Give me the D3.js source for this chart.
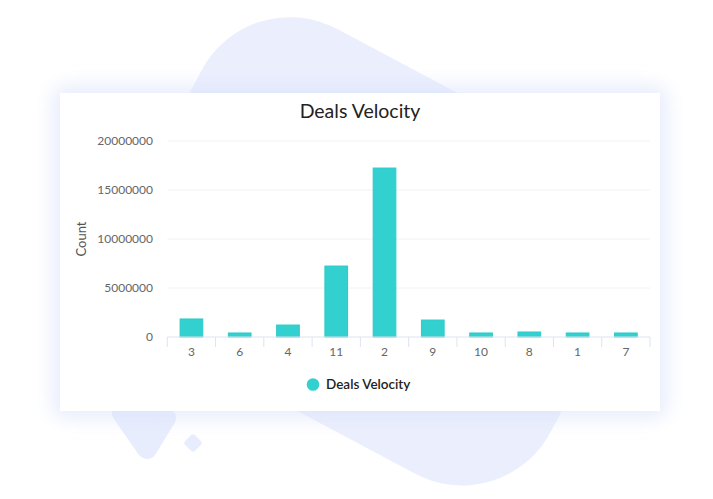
<!DOCTYPE html>
<html><head><meta charset="utf-8">
<script src="https://cdn.jsdelivr.net/npm/d3@7"></script>
<style>html,body{margin:0;padding:0;background:#fff;overflow:hidden}svg{display:block}</style>
</head><body>
<script>
const categories = ["3","6","4","11","2","9","10","8","1","7"];
const values = [1840000, 410000, 1220000, 7240000, 17240000, 1730000, 410000, 510000, 410000, 410000];
const yTicks = [0, 5000000, 10000000, 15000000, 20000000];
const seriesName = "Deals Velocity";
const chartTitle = "Deals Velocity";
const yAxisTitle = "Count";

const W = 713, H = 499;
const FONT = "Lato, 'Open Sans', sans-serif";
const BAR = "#32d1d0";
const svg = d3.select("body").append("svg").attr("width", W).attr("height", H);
const defs = svg.append("defs");
const f = defs.append("filter").attr("id", "halo")
  .attr("x", "-20%").attr("y", "-20%").attr("width", "140%").attr("height", "140%");
f.append("feGaussianBlur").attr("stdDeviation", 9);

// decorative background shapes
const bg = svg.append("g");
bg.append("rect").attr("x", 211).attr("y", -132.7).attr("width", 478).attr("height", 356)
  .attr("rx", 100).attr("transform", "rotate(28)").attr("fill", "#ebeffd");
bg.append("path").attr("d", "M122,413 L147,449 L166,418 L140,381 Z")
  .attr("fill", "#e8edfd").attr("stroke", "#e8edfd").attr("stroke-width", 20)
  .attr("stroke-linejoin", "round");
bg.append("rect").attr("x", -7).attr("y", -7).attr("width", 14).attr("height", 14).attr("rx", 3)
  .attr("transform", "translate(193,443) rotate(45)").attr("fill", "#e8edfd");

// card with halo
const card = {x: 60, y: 93, w: 600, h: 318};
svg.append("rect").attr("x", card.x - 8).attr("y", card.y - 8).attr("width", card.w + 16)
  .attr("height", card.h + 16).attr("rx", 14).attr("fill", "#dae2fb").attr("opacity", 0.6)
  .attr("filter", "url(#halo)");
svg.append("rect").attr("x", card.x).attr("y", card.y).attr("width", card.w).attr("height", card.h)
  .attr("fill", "#fff");

// scales
const x = d3.scaleBand().domain(categories).range([167.3, 650]).padding(0);
const y = d3.scaleLinear().domain([0, 20000000]).range([337, 141]);
const g = svg.append("g");

// gridlines
g.selectAll(".grid").data(yTicks.filter(d => d > 0)).join("line")
  .attr("x1", x.range()[0]).attr("x2", x.range()[1])
  .attr("y1", d => y(d)).attr("y2", d => y(d))
  .attr("stroke", "#f0f2f6").attr("stroke-width", 1);

// y tick labels
g.selectAll(".ylab").data(yTicks).join("text")
  .attr("x", 153).attr("y", d => y(d)).attr("dy", "0.35em")
  .attr("text-anchor", "end").attr("font-family", FONT).attr("font-size", 12)
  .attr("fill", "#666").text(d => d3.format("d")(d));

// y title
g.append("text").attr("transform", `translate(81,${(y(0) + y(20000000)) / 2}) rotate(-90)`)
  .attr("dy", "0.35em").attr("text-anchor", "middle").attr("font-family", FONT)
  .attr("font-size", 13).attr("fill", "#555").text(yAxisTitle);

// bars
const bw = x.bandwidth() * 0.47;
g.selectAll(".bar").data(categories).join("rect")
  .attr("x", d => x(d) + (x.bandwidth() - bw) / 2)
  .attr("y", (d, i) => y(values[i]))
  .attr("width", bw)
  .attr("height", (d, i) => y(0) - y(values[i]))
  .attr("fill", BAR).attr("stroke", "#2ccaca").attr("stroke-width", 1);

// x axis
g.append("line").attr("x1", x.range()[0]).attr("x2", x.range()[1])
  .attr("y1", y(0)).attr("y2", y(0)).attr("stroke", "#dde4f0");
const bounds = categories.map(c => x(c)).concat([x.range()[1]]);
g.selectAll(".xt").data(bounds).join("line")
  .attr("x1", d => d).attr("x2", d => d).attr("y1", y(0)).attr("y2", y(0) + 10)
  .attr("stroke", "#dde4f0");
g.selectAll(".xlab").data(categories).join("text")
  .attr("x", d => x(d) + x.bandwidth() / 2).attr("y", 356)
  .attr("text-anchor", "middle").attr("font-family", FONT).attr("font-size", 12)
  .attr("fill", "#666").text(d => d);

// title
svg.append("text").attr("x", 360).attr("y", 118).attr("text-anchor", "middle")
  .attr("font-family", FONT).attr("font-size", 19.5).attr("fill", "#222").text(chartTitle);

// legend
svg.append("circle").attr("cx", 313).attr("cy", 384.5).attr("r", 6.3).attr("fill", BAR);
svg.append("text").attr("x", 326).attr("y", 389).attr("font-family", FONT)
  .attr("font-size", 13.5).attr("font-weight", 600).attr("fill", "#222").text(seriesName);
</script>
</body></html>
